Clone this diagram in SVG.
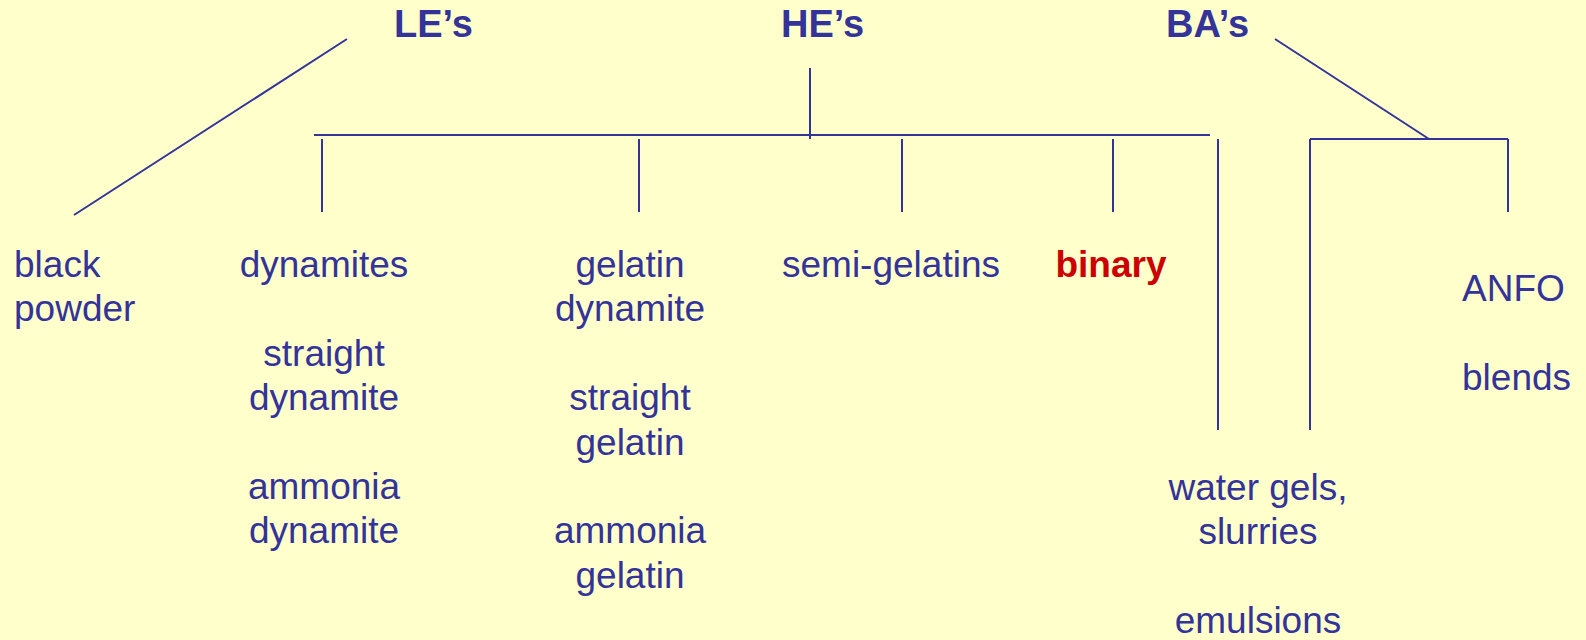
<svg xmlns="http://www.w3.org/2000/svg" width="1586" height="640" viewBox="0 0 1586 640">
<style>
text{font-family:"Liberation Sans",Arial,sans-serif;font-size:37px;fill:#333399}
.b{font-weight:bold}
.t{font-size:38px}
.r{fill:#CC0000}
.c{text-anchor:middle}
line{stroke:#333399;stroke-width:2;fill:none}
</style>
<rect width="1586" height="640" fill="#FFFFCC"/>
<g id="connectors">
<line x1="74" y1="215" x2="347" y2="39"/>
<line x1="314" y1="135" x2="1210" y2="135"/>
<line x1="810" y1="68" x2="810" y2="139"/>
<line x1="322" y1="139" x2="322" y2="212"/>
<line x1="639" y1="139" x2="639" y2="212"/>
<line x1="902" y1="139" x2="902" y2="212"/>
<line x1="1113" y1="139" x2="1113" y2="212"/>
<line x1="1218" y1="139" x2="1218" y2="430"/>
<line x1="1275" y1="39" x2="1429" y2="139"/>
<line x1="1310" y1="139" x2="1508" y2="139"/>
<line x1="1310" y1="139" x2="1310" y2="430"/>
<line x1="1508" y1="139" x2="1508" y2="212"/>
</g>
<g id="les"><text class="b t" x="394" y="37">LE’s</text></g>
<g id="hes"><text class="b t" x="781" y="37">HE’s</text></g>
<g id="bas"><text class="b t" x="1166" y="37">BA’s</text></g>
<g id="black-powder"><text x="14" y="277">black</text><text x="14" y="321">powder</text></g>
<g id="dynamites"><text class="c" x="324" y="277">dynamites</text>
<text class="c" x="324" y="366">straight</text><text class="c" x="324" y="410">dynamite</text>
<text class="c" x="324" y="499">ammonia</text><text class="c" x="324" y="543">dynamite</text></g>
<g id="gelatins"><text class="c" x="630" y="277">gelatin</text><text class="c" x="630" y="321">dynamite</text>
<text class="c" x="630" y="410">straight</text><text class="c" x="630" y="455">gelatin</text>
<text class="c" x="630" y="543">ammonia</text><text class="c" x="630" y="588">gelatin</text></g>
<g id="semi-gelatins"><text class="c" x="891" y="277">semi-gelatins</text></g>
<g id="binary"><text class="b r c" x="1111" y="277">binary</text></g>
<g id="water-gels"><text class="c" x="1258" y="500">water gels,</text><text class="c" x="1258" y="544">slurries</text>
<text class="c" x="1258" y="633">emulsions</text></g>
<g id="anfo"><text x="1462" y="301">ANFO</text><text x="1462" y="390">blends</text></g>
</svg>
